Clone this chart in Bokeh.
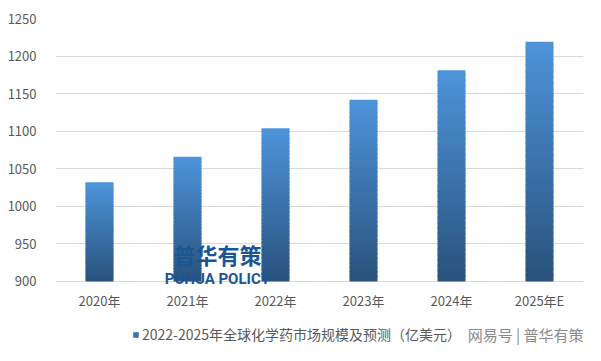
from bokeh.plotting import figure
from bokeh.models import (ColumnDataSource, Range1d, FixedTicker, Legend, LegendItem, Label)
from bokeh.core.properties import value
from bokeh.embed import file_html
from bokeh.resources import INLINE

# ---- data ----
categories = ["2020年", "2021年", "2022年", "2023年", "2024年", "2025年E"]
values = [1032, 1066, 1104, 1142, 1181, 1219]
y_ticks = [900, 950, 1000, 1050, 1100, 1150, 1200, 1250]
series_name = "2022-2025年全球化学药市场规模及预测（亿美元）"

Y_BASE, Y_MAX = 900, 1250
# visible range extends below the baseline so the legend area lives inside the frame
Y_VIEW_MIN = 814.8
TOP_COLOR = (0x4d, 0x94, 0xda)
BOTTOM_COLOR = (0x29, 0x52, 0x7c)
N_SLICES = 40
FONT = "Noto Sans CJK SC"


def mix(t):
    r = [round(b + (a - b) * t) for a, b in zip(TOP_COLOR, BOTTOM_COLOR)]
    return "#%02x%02x%02x" % tuple(r)


xs, bottoms, tops, colors = [], [], [], []
for cat, v in zip(categories, values):
    for i in range(N_SLICES):
        b = Y_BASE + (v - Y_BASE) * i / N_SLICES
        t = Y_BASE + (v - Y_BASE) * (i + 1) / N_SLICES
        xs.append(cat)
        bottoms.append(b)
        tops.append(min(t + 1.5, v))
        colors.append(mix((i + 0.5) / N_SLICES))

src = ColumnDataSource(dict(x=xs, bottom=bottoms, top=tops, color=colors))

p = figure(x_range=categories, y_range=Range1d(Y_VIEW_MIN, Y_MAX),
           width=585, height=345, output_backend="svg", toolbar_location=None,
           min_border_left=55, min_border_right=2, min_border_top=18,
           min_border_bottom=0)

r = p.vbar(x="x", bottom="bottom", top="top", width=0.318, source=src,
           fill_color="color", line_color=None)

p.outline_line_color = None
p.background_fill_color = "white"
p.border_fill_color = "white"

p.xgrid.grid_line_color = None
p.ygrid.grid_line_color = "#d9d9d9"
p.ygrid.grid_line_width = 1
p.yaxis.ticker = FixedTicker(ticks=y_ticks)

p.yaxis.major_tick_line_color = None
p.yaxis.minor_tick_line_color = None
p.yaxis.axis_line_color = None
p.yaxis.major_label_text_font = FONT
p.yaxis.major_label_text_font_size = "13px"
p.yaxis.major_label_text_color = "#595959"
p.yaxis.major_label_standoff = 13

# category labels under the 900 baseline
p.xaxis.visible = False
cat_src = ColumnDataSource(dict(x=categories, y=[Y_BASE - 25] * len(categories), t=categories))
p.text(x="x", y="y", text="t", source=cat_src, text_font=value(FONT),
       text_font_size="13px", text_color="#595959", text_align="center",
       text_baseline="middle")

legend = Legend(items=[LegendItem(label=series_name, renderers=[r], index=N_SLICES // 2)],
                orientation="horizontal", location=(77, 1),
                glyph_width=7, glyph_height=7, label_standoff=3,
                label_text_font=FONT, label_text_font_size="14px",
                label_text_color="#595959", border_line_color=None,
                background_fill_alpha=0, margin=0, padding=0, spacing=0)
p.add_layout(legend, "center")

# watermarks
p.add_layout(Label(x=1.84, y=937, text="普华有策", text_font=FONT, text_font_size="22px",
                   text_font_style="bold", text_color="#1b5594", text_align="center",
                   text_baseline="middle"))
p.add_layout(Label(x=1.84, y=903, text="PUHUA POLICY",
                   text_font="'Liberation Sans Narrow', Roboto",
                   text_font_size="15px", text_font_style="bold", text_color="#1b5594",
                   text_align="center", text_baseline="middle"))
p.add_layout(Label(x=6.0, y=830, text="网易号 | 普华有策", text_font=FONT,
                   text_font_size="15px", text_color="#8a8a8a", text_align="right",
                   text_baseline="middle"))

open("out.html", "w").write(file_html(p, INLINE))
